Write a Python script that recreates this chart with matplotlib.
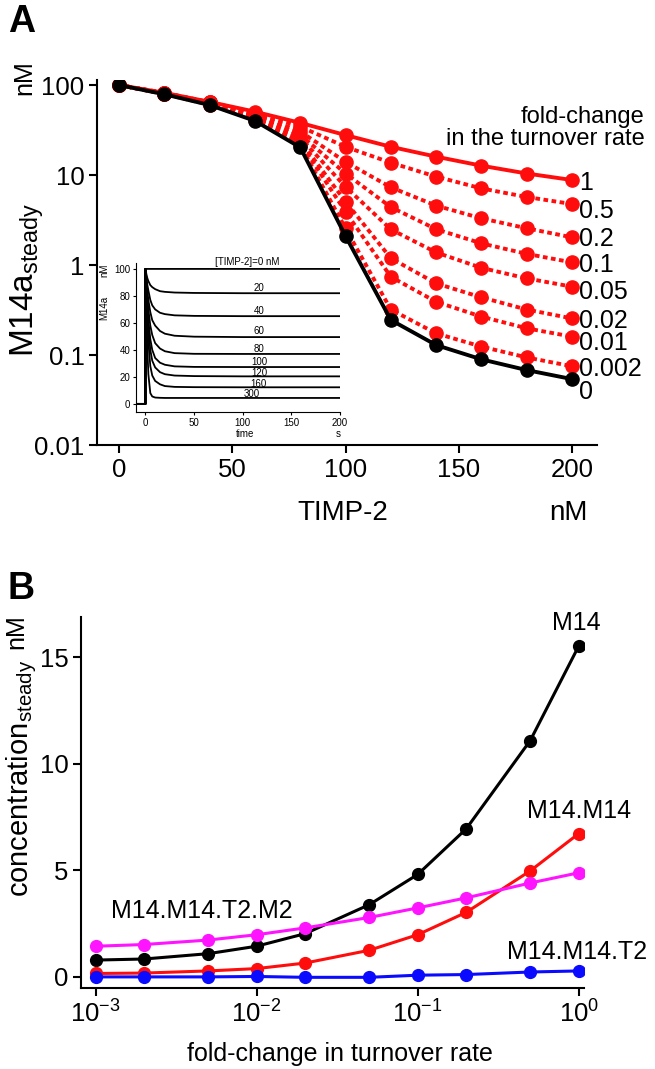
import numpy as np
import matplotlib
matplotlib.use("Agg")
import matplotlib.pyplot as plt
from matplotlib.ticker import FixedLocator, NullLocator, FuncFormatter

plt.rcParams['font.family'] = ['Liberation Sans', 'DejaVu Sans']
plt.rcParams['mathtext.fontset'] = 'custom'
plt.rcParams['mathtext.rm'] = 'Liberation Sans'
plt.rcParams['mathtext.it'] = 'Liberation Sans:italic'

# ---- panel A data: steady M14a vs TIMP-2 for several turnover fold-changes
timp = [0, 20, 40, 60, 80, 100, 120, 140, 160, 180, 200]
fold_labels_A = ['1', '0.5', '0.2', '0.1', '0.05', '0.02', '0.01', '0.002', '0']
steady_f1 = [100, 82, 65, 50.6, 38, 27.8, 20.6, 16, 12.7, 10.4, 8.8]
steady_f05 = [100, 82, 64.5, 49, 34.5, 20.6, 13.7, 9.6, 7.1, 5.7, 4.76]
steady_f02 = [100, 81.5, 64, 47.5, 30.5, 14, 7.3, 4.57, 3.3, 2.56, 2.03]
steady_f01 = [100, 81, 63.5, 46, 28, 10.4, 4.4, 2.5, 1.74, 1.33, 1.07]
steady_f005 = [100, 80.5, 63, 45, 26, 7.4, 2.49, 1.38, 0.93, 0.71, 0.575]
steady_f002 = [100, 80, 62, 43.5, 24, 5.06, 1.19, 0.625, 0.437, 0.32, 0.255]
steady_f001 = [100, 80, 61.5, 42.5, 23, 3.9, 0.74, 0.39, 0.267, 0.198, 0.16]
steady_f0002 = [100, 79.5, 60.5, 41, 21.5, 2.55, 0.32, 0.174, 0.124, 0.094, 0.075]
steady_f0 = [100, 79, 60, 40, 20.3, 2.1, 0.245, 0.129, 0.0895, 0.068, 0.054]

# inset: time courses of M14a for several TIMP-2 levels
t_course = [-10, -0.01, 0, 1, 2, 3, 5, 7, 10, 15, 20, 30, 50, 100, 200]
trace_labels = ['[TIMP-2]=0 nM', '20', '40', '60', '80', '100', '120', '160', '300']
trace_0 = [0, 0, 100, 100, 100, 100, 100, 100, 100, 100, 100, 100, 100, 100, 100]
trace_20 = [0, 0, 100, 96, 93, 91, 88, 86.5, 85, 83.5, 83, 82.5, 82.2, 82, 82]
trace_40 = [0, 0, 100, 93, 88, 84, 77, 73, 70, 67.5, 66.5, 65.6, 65.2, 65, 65]
trace_60 = [0, 0, 100, 91, 83, 77, 68, 62, 58, 54, 52, 50.5, 49.8, 49.5, 49.5]
trace_80 = [0, 0, 100, 88, 78, 70, 58, 51, 45, 41, 39, 37.6, 37.1, 37, 37]
trace_100 = [0, 0, 100, 85, 72, 62, 48, 40, 34, 30.5, 29, 27.8, 27.4, 27.3, 27.3]
trace_120 = [0, 0, 100, 83, 68, 56, 40, 32, 27, 23.5, 22, 21, 20.6, 20.4, 20.4]
trace_160 = [0, 0, 100, 78, 60, 46, 28, 21, 17, 14.5, 13.2, 12.6, 12.4, 12.3, 12.3]
trace_300 = [0, 0, 100, 68, 40, 22, 8, 5.5, 4.7, 4.5, 4.4, 4.4, 4.4, 4.4, 4.4]

# ---- panel B data: steady concentrations vs turnover fold-change
fold_B = [0.001, 0.002, 0.005, 0.01, 0.02, 0.05, 0.1, 0.2, 0.5, 1]
m14 = [0.79, 0.84, 1.09, 1.44, 2.03, 3.39, 4.81, 6.95, 11.1, 15.54]
m14_m14 = [0.16, 0.18, 0.28, 0.39, 0.65, 1.25, 1.98, 3.03, 4.98, 6.73]
m14_m14_t2_m2 = [1.44, 1.52, 1.73, 1.98, 2.3, 2.79, 3.24, 3.71, 4.41, 4.89]
m14_m14_t2 = [0.0, 0.0, 0.0, 0.02, -0.02, -0.02, 0.08, 0.11, 0.23, 0.28]

RED = '#ff0d0d'
TICK_FS = 18.5

fig = plt.figure(figsize=(6.55, 10.69), dpi=100)

# ================= panel A =================
ax = fig.add_axes([0.1481, 0.5837, 0.7634, 0.3414])
red_series = [steady_f05, steady_f02, steady_f01, steady_f005,
              steady_f002, steady_f001, steady_f0002]
for s in red_series:
    ax.plot(timp, s, color=RED, lw=2.8, ls=(0, (1.2, 0.9)),
            marker='o', ms=9.5, zorder=2)
ax.plot(timp, steady_f1, color=RED, lw=2.8, marker='o', ms=9.5, zorder=3)
ax.plot(timp, steady_f0, color='black', lw=2.8, marker='o', ms=9.5, zorder=4)

ax.set_yscale('log')
ax.set_xlim(-9.7, 211)
ax.set_ylim(0.01, 113.6)
ax.yaxis.set_major_locator(FixedLocator([0.01, 0.1, 1, 10, 100]))
ax.yaxis.set_minor_locator(NullLocator())
ax.yaxis.set_major_formatter(FuncFormatter(lambda v, p: '%g' % v))
ax.set_xticks([0, 50, 100, 150, 200])
for sp in ['top', 'right']:
    ax.spines[sp].set_visible(False)
for sp in ['left', 'bottom']:
    ax.spines[sp].set_linewidth(1.5)
ax.tick_params(axis='both', labelsize=TICK_FS, width=1.5, length=6, pad=3)

# end-of-line labels
label_y = [8.1, 3.95, 1.95, 1.0, 0.5, 0.24, 0.135, 0.07, 0.039]
for lab, yv in zip(fold_labels_A, label_y):
    ax.text(203, yv, lab, fontsize=18, va='center', ha='left', clip_on=False)
ax.text(232, 33.3, 'fold-change\nin the turnover rate', fontsize=17,
        ha='right', va='center', linespacing=0.95, clip_on=False)

fig.text(343 / 655, 1 - 513 / 1069, 'TIMP-2', fontsize=20, ha='center', va='center')
fig.text(568 / 655, 1 - 513 / 1069, 'nM', fontsize=20, ha='center', va='center')
fig.text(27 / 655, 1 - 280 / 1069, r'M14a$_{\mathregular{steady}}$', fontsize=24,
         rotation=90, ha='center', va='center')
fig.text(24 / 655, 1 - 78 / 1069, 'nM', fontsize=18, rotation=90,
         ha='center', va='center')
fig.text(8 / 655, 1 - 22 / 1069, 'A', fontsize=27, fontweight='bold',
         ha='left', va='center')

# inset
ins = fig.add_axes([0.2072, 0.6146, 0.3119, 0.1394])
traces = [trace_0, trace_20, trace_40, trace_60, trace_80, trace_100,
          trace_120, trace_160, trace_300]
for tr in traces:
    ins.plot(t_course, tr, color='black', lw=1.3)
ins.set_xlim(-10, 200)
ins.set_ylim(-6, 104.4)
ins.set_xticks([0, 50, 100, 150, 200])
ins.set_yticks([0, 20, 40, 60, 80, 100])
for sp in ['top', 'right']:
    ins.spines[sp].set_visible(False)
for sp in ['left', 'bottom']:
    ins.spines[sp].set_linewidth(0.8)
ins.tick_params(axis='both', labelsize=7, width=0.8, length=2.5, pad=1.5)
ins.patch.set_alpha(0)
inset_lab_x = [104.5, 116.6, 116.6, 116.6, 116.6, 116.6, 116.6, 116.6, 109]
inset_lab_y = [105.4, 85.7, 68.5, 53.7, 40.9, 31.0, 22.9, 14.8, 7.6]
for lab, xv, yv in zip(trace_labels, inset_lab_x, inset_lab_y):
    ins.text(xv, yv, lab, fontsize=7, ha='center', va='center', clip_on=False)
fig.text(245 / 655, 1 - 434 / 1069, 'time', fontsize=7, ha='center', va='center')
fig.text(338.5 / 655, 1 - 434 / 1069, 's', fontsize=7, ha='center', va='center')
fig.text(104 / 655, 1 - 308 / 1069, 'M14a', fontsize=7, rotation=90,
         ha='center', va='center')
fig.text(104 / 655, 1 - 270 / 1069, 'nM', fontsize=7, rotation=90,
         ha='center', va='center')

# ================= panel B =================
bx = fig.add_axes([0.1237, 0.0758, 0.768, 0.347])
bx.plot(fold_B, m14, color='black', lw=2.2, marker='o', ms=8.5, zorder=2)
bx.plot(fold_B, m14_m14, color=RED, lw=2.2, marker='o', ms=8.5, zorder=3)
bx.plot(fold_B, m14_m14_t2_m2, color='#ff14ff', lw=2.2, marker='o', ms=8.5, zorder=4)
bx.plot(fold_B, m14_m14_t2, color='#0a0aff', lw=2.2, marker='o', ms=8.5, zorder=5)
bx.set_xscale('log')
bx.set_xlim(10 ** -3.09, 10 ** 0.033)
bx.set_ylim(-0.52, 16.9)
bx.xaxis.set_major_locator(FixedLocator([1e-3, 1e-2, 1e-1, 1]))
bx.xaxis.set_minor_locator(NullLocator())
bx.set_yticks([0, 5, 10, 15])
for sp in ['top', 'right']:
    bx.spines[sp].set_visible(False)
for sp in ['left', 'bottom']:
    bx.spines[sp].set_linewidth(1.5)
bx.tick_params(axis='both', labelsize=TICK_FS, width=1.5, length=6, pad=3)

bx.text(0.97, 16.6, 'M14', fontsize=18, ha='center', va='center', clip_on=False)
bx.text(1.0, 7.8, 'M14.M14', fontsize=18, ha='center', va='center', clip_on=False)
bx.text(0.0046, 3.1, 'M14.M14.T2.M2', fontsize=18, ha='center', va='center',
        clip_on=False)
bx.text(0.98, 1.17, 'M14.M14.T2', fontsize=18, ha='center', va='center',
        clip_on=False)

fig.text(340 / 655, 1 - 1054 / 1069, 'fold-change in turnover rate', fontsize=18,
         ha='center', va='center')
fig.text(22 / 655, 1 - 778 / 1069, r'concentration$_{\mathregular{steady}}$',
         fontsize=21, rotation=90, ha='center', va='center')
fig.text(16 / 655, 1 - 632 / 1069, 'nM', fontsize=18, rotation=90,
         ha='center', va='center')
fig.text(8 / 655, 1 - 589 / 1069, 'B', fontsize=27, fontweight='bold',
         ha='left', va='center')

fig.savefig('out.png', dpi=100)
